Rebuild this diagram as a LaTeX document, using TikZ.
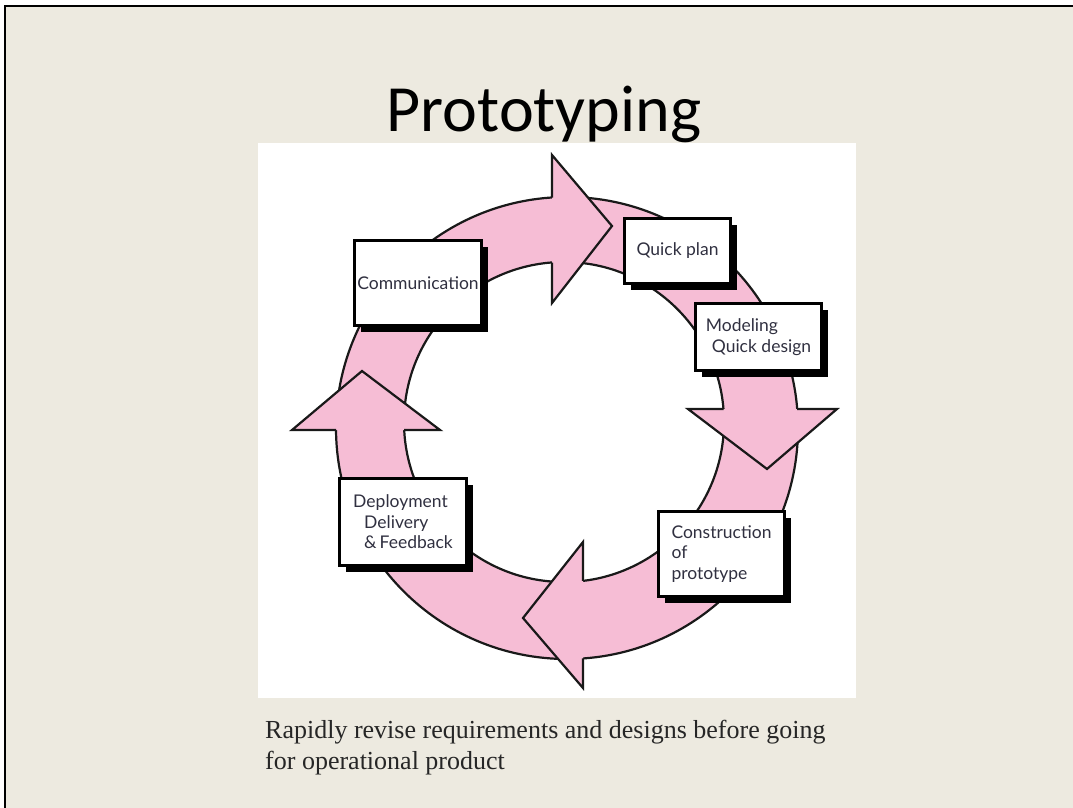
\documentclass[tikz,border=0pt]{standalone}
\usepackage{fontspec}
\setmainfont{Liberation Serif}
\newfontfamily\titlefont{Carlito}
\newfontfamily\stagefont{Lato}
\usetikzlibrary{shadows}

\definecolor{slide}{RGB}{237,234,224}
\definecolor{ringpink}{RGB}{246,189,213}
\definecolor{stagetext}{RGB}{48,48,64}

\begin{document}
\begin{tikzpicture}[x=1pt,y=-1pt,
  ringline/.style={draw=black!90, line width=2.2pt, line join=miter},
  stage/.style={draw=black, line width=3pt, fill=white, rectangle,
    inner sep=0pt, align=left, text=stagetext,
    font=\stagefont\fontsize{17.5}{20.5}\selectfont,
    drop shadow={shadow xshift=6pt, shadow yshift=-6pt, fill=black, opacity=1}},
]
\useasboundingbox (0,0) rectangle (1073,808);

% slide background with its frame on the left and top
\fill[white] (0,0) rectangle (1073,808);
\fill[slide] (5,6) rectangle (1073,808);
\draw[black, line width=2pt] (5,808) -- (5,6) -- (1073,6);

% white panel behind the cycle
\fill[white] (258,143) rectangle (856,698);

% title
\node[font=\titlefont\fontsize{66}{70}\selectfont, anchor=base] (title) at (544,131) {Prototyping};

% the ring
\fill[ringpink, even odd rule] (567,428) circle[radius=231pt] (564,422) circle[radius=160pt];
\draw[ringline] (567,428) circle[radius=231pt];
\draw[ringline] (564,422) circle[radius=160pt];

% arrow heads on the ring (clockwise)
\fill[ringpink] (552,155) -- (612,226) -- (552,303) -- cycle;
\draw[ringline] (552,197.5) -- (552,155) -- (612,226) -- (552,303) -- (552,262.5);

\fill[ringpink] (688,409) -- (837,409) -- (767,469) -- cycle;
\draw[ringline] (797.2,409) -- (837,409) -- (767,469) -- (688,409) -- (723.5,409);

\fill[ringpink] (583,542) -- (583,688) -- (523,618) -- cycle;
\draw[ringline] (583,658.4) -- (583,688) -- (523,618) -- (583,542) -- (583,580.9);

\fill[ringpink] (292,430) -- (440,430) -- (362,371) -- cycle;
\draw[ringline] (336,430) -- (292,430) -- (362,371) -- (440,430) -- (404.2,430);

% stages
\node[stage, minimum width=127, minimum height=85] (comm) at (418,283) {Communication};
\node[stage, minimum width=106, minimum height=65] (plan) at (677.5,251) {Quick plan};
\node[stage, minimum width=126, minimum height=67] (model) at (758.5,337) {Modeling\\\hspace*{6pt}Quick design};
\node[stage, minimum width=126, minimum height=85] (build) at (721.5,554) {Construction\\of\\prototype};
\node[stage, minimum width=127, minimum height=87] (deploy) at (403,522) {Deployment\\\hspace*{11pt}Delivery\\\hspace*{11pt}\&\,Feedback};

% caption
\node[anchor=base west, align=left, inner sep=0pt, font=\fontsize{26}{30.5}\selectfont, text=black!85] (caption) at (265,769)
  {Rapidly revise requirements and designs before going\\for operational product};
\end{tikzpicture}
\end{document}
